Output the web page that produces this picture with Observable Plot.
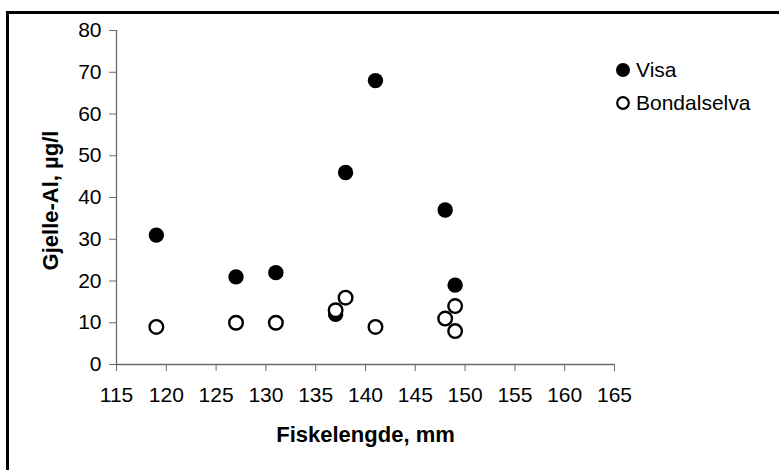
<!DOCTYPE html>
<html>
<head>
<meta charset="utf-8">
<script src="https://cdn.jsdelivr.net/npm/d3@7"></script>
<script src="https://cdn.jsdelivr.net/npm/@observablehq/plot@0.6"></script>
<style>
  html, body { margin: 0; padding: 0; background: #fff; overflow: hidden; width: 779px; height: 470px; }
  #wrap { position: relative; width: 779px; height: 470px; font-family: "Liberation Sans", Arial, sans-serif; }
  #frame { position: absolute; left: 6px; top: 11px; width: 820px; height: 520px; border: 3px solid #000; box-sizing: border-box; pointer-events: none; }
  #chart { position: absolute; left: 0; top: 0; }
  #legend { position: absolute; left: 614px; top: 53px; font-size: 21px; color: #000; line-height: 33px; }
  #legend .row { display: flex; align-items: center; white-space: nowrap; }
  #legend svg { margin-right: 4px; }
</style>
</head>
<body>
<div id="wrap">
  <div id="chart"></div>
  <div id="frame"></div>
  <div id="legend"></div>
</div>
<script>
// Data
const seriesNames = ["Visa", "Bondalselva"];
const visaLength = [119, 127, 131, 137, 138, 141, 148, 149];
const visaAl = [31, 21, 22, 12, 46, 68, 37, 19];
const bondLength = [119, 127, 131, 137, 138, 141, 148, 149, 149];
const bondAl = [9, 10, 10, 13, 16, 9, 11, 14, 8];
const xTicks = [115, 120, 125, 130, 135, 140, 145, 150, 155, 160, 165];
const yTicks = [0, 10, 20, 30, 40, 50, 60, 70, 80];
const xTitle = "Fiskelengde, mm";
const yTitle = "Gjelle-Al, µg/l";

const visa = visaLength.map((len, i) => ({len, al: visaAl[i]}));
const bond = bondLength.map((len, i) => ({len, al: bondAl[i]}));

const axisColor = "#6b6b6b";

const chart = Plot.plot({
  width: 779,
  height: 470,
  marginLeft: 116,
  marginRight: 165,
  marginTop: 30,
  marginBottom: 106,
  style: { fontFamily: "'Liberation Sans', Arial, sans-serif", fontSize: "21px", color: "#000", background: "transparent" },
  x: { domain: [xTicks[0], xTicks[xTicks.length - 1]] },
  y: { domain: [yTicks[0], yTicks[yTicks.length - 1]] },
  marks: [
    Plot.axisX({ ticks: xTicks, tickSize: 7, tickPadding: 16, stroke: axisColor, fill: "#000", label: null, tickFormat: d => String(d) }),
    Plot.axisY({ ticks: yTicks, tickSize: 7, tickPadding: 8, stroke: axisColor, fill: "#000", label: null, tickFormat: d => String(d) }),
    Plot.ruleX([xTicks[0]], { stroke: axisColor, strokeWidth: 1.3 }),
    Plot.ruleY([yTicks[0]], { stroke: axisColor, strokeWidth: 1.3 }),
    Plot.dot(visa, { x: "len", y: "al", r: 7.7, fill: "#000", stroke: "none" }),
    Plot.dot(bond, { x: "len", y: "al", r: 6.8, fill: "#fff", stroke: "#000", strokeWidth: 2.4 }),
    Plot.text([xTitle], { frameAnchor: "bottom", textAnchor: "middle", lineAnchor: "middle", dy: 70, text: d => d, fontWeight: "bold", fontSize: 22, fill: "#000" }),
    Plot.text([yTitle], { frameAnchor: "left", textAnchor: "middle", lineAnchor: "middle", dx: -66, dy: 3, rotate: -90, text: d => d, fontWeight: "bold", fontSize: 22, fill: "#000" })
  ]
});
document.getElementById("chart").appendChild(chart);

// Legend
const legend = document.getElementById("legend");
const styles = [
  { r: 7, fill: "#000", stroke: "none", sw: 0 },
  { r: 5.8, fill: "#fff", stroke: "#000", sw: 2.2 }
];
seriesNames.forEach((name, i) => {
  const s = styles[i];
  const row = document.createElement("div");
  row.className = "row";
  row.innerHTML = `<svg width="18" height="18" viewBox="-9 -9 18 18"><circle r="${s.r}" fill="${s.fill}" stroke="${s.stroke}" stroke-width="${s.sw}"/></svg><span>${name}</span>`;
  legend.appendChild(row);
});
</script>
</body>
</html>
